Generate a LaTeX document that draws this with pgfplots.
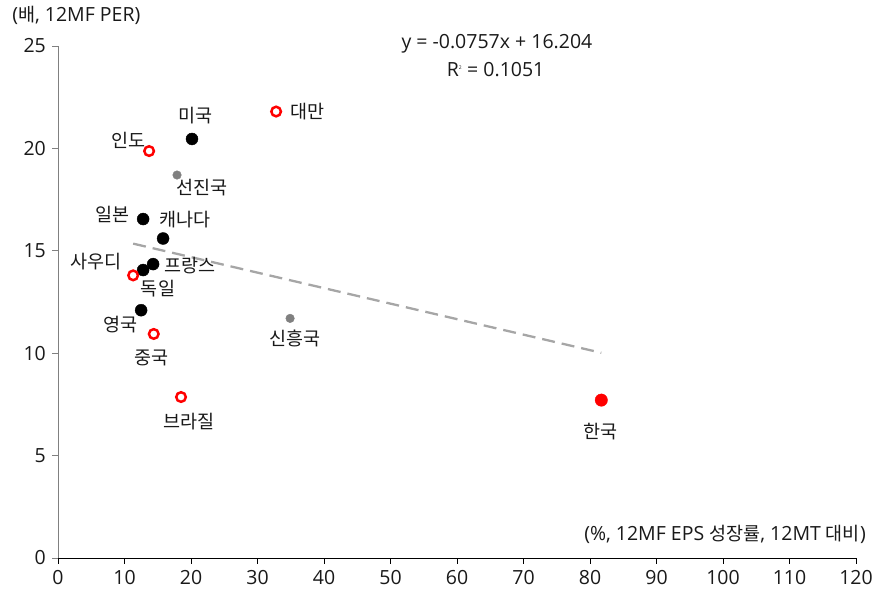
\documentclass[border=0pt]{standalone}
\usepackage{fontspec}
\setmainfont{Open Sans}
\newfontfamily\krfont{Noto Sans CJK KR}
\newcommand\kr[1]{{\krfont\fontsize{18.5bp}{21bp}\selectfont #1}}
\usepackage{pgfplots}
\pgfplotsset{compat=1.18}
\definecolor{axgray}{RGB}{128,128,128}
\definecolor{trendgray}{RGB}{166,166,166}
\definecolor{ptgray}{RGB}{128,128,128}
\definecolor{txt}{RGB}{25,25,25}
\begin{document}
\fontsize{19.5bp}{22bp}\selectfont
\begin{tikzpicture}
\begin{axis}[
  at={(0,0)}, anchor=south west,
  scale only axis,
  width=798bp, height=512bp,
  xmin=0, xmax=120, ymin=0, ymax=25,
  xtick={0,10,...,120}, ytick={0,5,...,25},
  axis lines*=left,
  x axis line style={black, line width=0.8pt},
  y axis line style={axgray, line width=0.8pt},
  xtick style={black, line width=0.8pt},
  ytick style={axgray, line width=0.8pt},
  tick align=outside,
  major tick length=5.5bp,
  tick label style={txt},
  /pgf/number format/assume math mode=true,
  clip=false,
  every axis plot/.append style={only marks},
]
% trend line
\addplot[sharp plot, no marks, trendgray, line width=2.3pt, dash pattern=on 13bp off 7bp] coordinates {(11.3,15.35) (81.7,10.02)};
% black filled
\addplot[mark=*, mark size=6bp, black, mark options={fill=black}] coordinates {
(20.15,20.46) (12.8,16.55) (15.8,15.6) (14.3,14.35) (12.8,14.06) (12.5,12.1)};
% gray small
\addplot[mark=*, mark size=4.3bp, ptgray, mark options={fill=ptgray}] coordinates {
(17.9,18.7) (34.9,11.7)};
% red open
\addplot[mark=o, mark size=4.8bp, red, mark options={line width=2.5pt, fill=white}] coordinates {
(32.8,21.8) (13.7,19.87) (11.3,13.8) (14.4,10.94) (18.5,7.86)};
% red filled
\addplot[mark=*, mark size=6.2bp, red, mark options={fill=red}] coordinates {(81.7,7.71)};

\begin{scope}[every node/.style={txt, inner sep=0pt}]
\node at (axis cs:20.75,21.58) {\kr{미국}};
\node at (axis cs:37.45,21.8) {\kr{대만}};
\node at (axis cs:10.53,20.41) {\kr{인도}};
\node at (axis cs:21.65,18.11) {\kr{선진국}};
\node at (axis cs:8.27,16.75) {\kr{일본}};
\node at (axis cs:19.1,16.5) {\kr{캐나다}};
\node at (axis cs:19.85,14.3) {\kr{프랑스}};
\node at (axis cs:15.04,13.14) {\kr{독일}};
\node at (axis cs:5.71,14.45) {\kr{사우디}};
\node at (axis cs:9.47,11.38) {\kr{영국}};
\node at (axis cs:14.0,9.77) {\kr{중국}};
\node at (axis cs:19.7,6.64) {\kr{브라질}};
\node at (axis cs:35.6,10.74) {\kr{신흥국}};
\node at (axis cs:81.65,6.15) {\kr{한국}};
\node at (axis cs:66.0,25.1) {y = -0.0757x + 16.204};
\node at (axis cs:65.8,23.83) {R\textsuperscript{\tiny 2} = 0.1051};
\node[anchor=west] at (axis cs:-6.9,26.5) {(\kr{배}, 12MF PER)};
\node[anchor=east] at (axis cs:121.5,1.17) {(\%, 12MF EPS \kr{성장률}, 12MT \kr{대비})};
\end{scope}
\end{axis}
\pgfresetboundingbox
\path (-58bp,-34bp) rectangle (819bp,558bp);
\end{tikzpicture}
\end{document}
